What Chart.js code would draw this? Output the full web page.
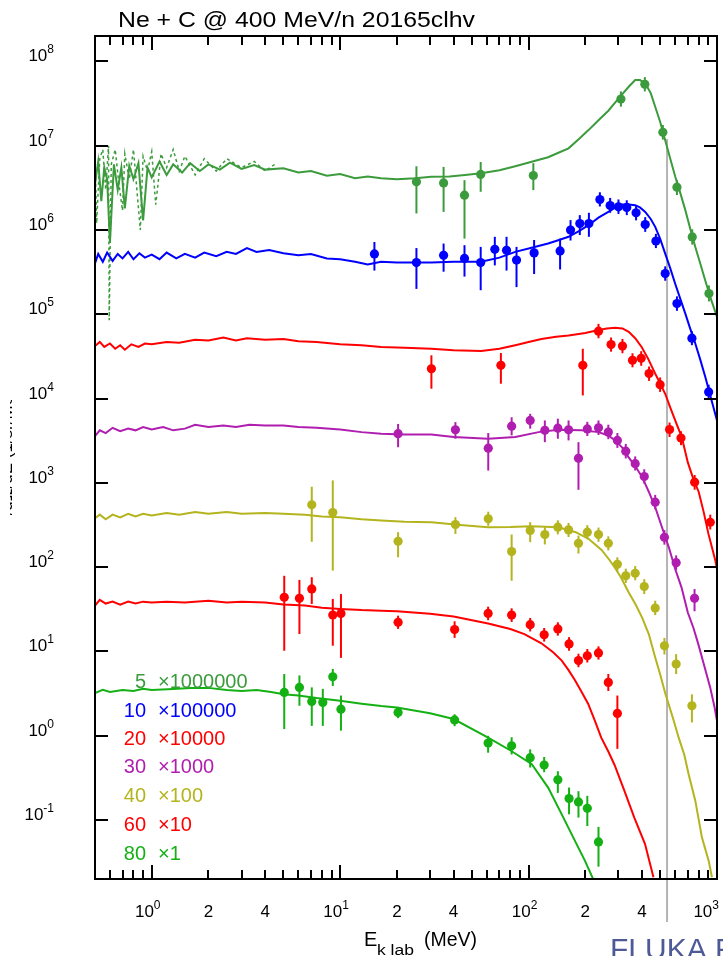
<!DOCTYPE html>
<html>
<head>
<meta charset="utf-8">
<script src="https://cdn.jsdelivr.net/npm/chart.js@4.4.1/dist/chart.umd.min.js"></script>
<style>
html, body { margin: 0; padding: 0; background: #ffffff; overflow: hidden; }
canvas { display: block; }
</style>
</head>
<body>
<canvas id="grafica-espectros" width="723" height="956"></canvas>
<script>
// Ne + C @ 400 MeV/n : FLUKA spectra (lines) and measured points, one pair per angle

const xTickValues = [1, 2, 4, 10, 20, 40, 100, 200, 400, 1000];
const xTickLabels = ['10^0', '2', '4', '10^1', '2', '4', '10^2', '2', '4', '10^3'];
const yTickExponents = [-1, 0, 1, 2, 3, 4, 5, 6, 7, 8];
const cutEnergy = 543;

// 5 deg
const mc5E = [0.5, 0.52, 0.54, 0.56, 0.58, 0.6, 0.63, 0.66, 0.69, 0.72, 0.76, 0.8, 0.85, 0.9, 0.95, 1.0, 1.1, 1.2, 1.3, 1.45, 1.6, 1.8, 2.0, 2.3, 2.6, 3.0, 3.5, 4.0, 5.0, 6.0, 7.0, 8.5, 10, 12, 14, 16.5, 20, 25, 30.5, 38, 46, 56, 70, 85, 105, 127, 145, 163, 185, 208, 235, 265, 290, 312, 340, 368, 390, 416, 445, 470, 500, 531, 565, 600, 640, 679, 720, 767, 815, 867, 930, 1000];
const mc5Y = [3.5e6, 6.5e6, 2.2e6, 5.5e6, 4.0e6, 7e5, 6.0e6, 3.0e6, 5.5e6, 1.8e6, 5.8e6, 4.0e6, 6.2e6, 1.3e6, 5.5e6, 4.2e6, 6.5e6, 4.5e6, 6.0e6, 4.8e6, 6.2e6, 5.0e6, 6.0e6, 5.2e6, 6.3e6, 5.3e6, 5.9e6, 5.2e6, 5.4e6, 4.8e6, 5.0e6, 4.4e6, 4.6e6, 4.1e6, 4.3e6, 4.1e6, 4.0e6, 4.1e6, 4.27e6, 4.3e6, 4.5e6, 4.7e6, 5.1e6, 5.7e6, 6.5e6, 7.3e6, 8.3e6, 9.3e6, 1.2e7, 1.53e7, 2.0e7, 2.6e7, 3.3e7, 4.0e7, 5.0e7, 6.0e7, 6.0e7, 5.5e7, 4.2e7, 2.9e7, 1.9e7, 1.16e7, 7.0e6, 4.3e6, 2.7e6, 1.72e6, 1.05e6, 6.3e5, 4.0e5, 2.5e5, 1.5e5, 9.3e4];
const mc5dE = [0.5, 0.51, 0.53, 0.55, 0.57, 0.59, 0.595, 0.61, 0.64, 0.67, 0.7, 0.72, 0.76, 0.8, 0.84, 0.87, 0.9, 0.95, 1.0, 1.05, 1.08, 1.12, 1.2, 1.3, 1.4, 1.5, 1.7, 1.9, 2.2, 2.5, 3.0, 3.5, 4.0, 4.5];
const mc5dY = [8e6, 1.2e6, 7e6, 9e6, 3e6, 1e7, 8.5e4, 6e6, 9e6, 3.5e6, 1.7e6, 8e6, 4e6, 9e6, 2.5e6, 1.0e6, 7.5e6, 5e6, 8.5e6, 2.0e6, 3.5e6, 8e6, 5.5e6, 9e6, 5e6, 7.5e6, 4.5e6, 7e6, 5e6, 7e6, 5.5e6, 6.5e6, 5e6, 6e6];
const exp5E = [25.4, 35.4, 45.7, 55.7, 106, 309, 414, 516, 613, 739, 906];
const exp5Y = [3.73e6, 3.62e6, 2.59e6, 4.56e6, 4.43e6, 3.57e7, 5.35e7, 1.44e7, 3.22e6, 8.28e5, 1.76e5];
const exp5Lo = [1.57e6, 1.64e6, 7.9e5, 2.84e6, 2.97e6, 2.9e7, 4.4e7, 1.18e7, 2.6e6, 6.7e5, 1.42e5];
const exp5Hi = [5.7e6, 5.6e6, 3.9e6, 6.4e6, 6.2e6, 4.4e7, 6.5e7, 1.76e7, 3.9e6, 1.02e6, 2.2e5];

// 10 deg
const mc10E = [0.5, 0.52, 0.55, 0.58, 0.62, 0.66, 0.7, 0.75, 0.8, 0.86, 0.92, 1.0, 1.1, 1.2, 1.35, 1.5, 1.7, 1.9, 2.2, 2.5, 2.8, 3.2, 3.6, 4.2, 5.0, 6.0, 7.0, 8.5, 10, 12, 14, 16.5, 20, 25, 30.5, 40, 56, 70, 85, 105, 127, 145, 163, 185, 208, 235, 265, 290, 312, 340, 368, 390, 416, 445, 470, 500, 531, 565, 600, 640, 679, 720, 767, 815, 867, 930, 1000];
const mc10Y = [4.0e5, 5.2e5, 4.2e5, 5.4e5, 4.3e5, 5.2e5, 4.6e5, 5.5e5, 4.5e5, 5.3e5, 4.7e5, 5.1e5, 4.5e5, 5.4e5, 4.6e5, 5.2e5, 4.7e5, 5.4e5, 4.9e5, 5.5e5, 5.2e5, 6.1e5, 5.5e5, 5.8e5, 5.3e5, 5.0e5, 5.2e5, 4.6e5, 4.5e5, 4.2e5, 3.9e5, 4.2e5, 4.1e5, 4.1e5, 4.1e5, 4.2e5, 4.2e5, 4.7e5, 5.5e5, 6.2e5, 6.9e5, 7.6e5, 8.3e5, 9.7e5, 1.14e6, 1.4e6, 1.64e6, 1.85e6, 2.0e6, 2.0e6, 1.97e6, 1.85e6, 1.64e6, 1.35e6, 1.09e6, 7.8e5, 5.25e5, 3.5e5, 2.3e5, 1.5e5, 1.02e5, 6.8e4, 4.5e4, 2.9e4, 1.8e4, 1.0e4, 5.5e3];
const exp10E = [15.2, 25.4, 35.4, 45.7, 55.7, 66.2, 76.4, 86.3, 107, 147, 167, 187, 209, 239, 271, 300, 332, 372, 416, 474, 531, 613, 736, 903];
const exp10Y = [5.2e5, 4.1e5, 5.0e5, 4.6e5, 4.1e5, 5.9e5, 5.75e5, 4.4e5, 5.35e5, 5.65e5, 1.0e6, 1.19e6, 1.19e6, 2.3e6, 1.95e6, 1.88e6, 1.85e6, 1.6e6, 1.16e6, 7.4e5, 3.04e5, 1.34e5, 5.2e4, 1.2e4];
const exp10Lo = [3.3e5, 2.0e5, 3.2e5, 2.8e5, 1.93e5, 3.8e5, 3.3e5, 2.1e5, 3.0e5, 3.4e5, 7.5e5, 8.7e5, 8.3e5, 1.9e6, 1.6e6, 1.55e6, 1.5e6, 1.3e6, 9.5e5, 6.1e5, 2.5e5, 1.1e5, 4.3e4, 9.8e3];
const exp10Hi = [7.2e5, 6.1e5, 6.9e5, 6.6e5, 6.3e5, 8.3e5, 8.3e5, 6.3e5, 7.6e5, 7.9e5, 1.31e6, 1.5e6, 1.6e6, 2.8e6, 2.4e6, 2.3e6, 2.25e6, 1.95e6, 1.42e6, 9.0e5, 3.7e5, 1.63e5, 6.3e4, 1.46e4];

// 20 deg
const mc20E = [0.5, 0.53, 0.56, 0.6, 0.64, 0.68, 0.72, 0.78, 0.85, 0.92, 1.0, 1.2, 1.4, 1.7, 2.0, 2.4, 2.8, 3.2, 4.0, 5.0, 6.0, 7.5, 10, 13, 16.5, 22, 30.5, 40, 56, 70, 85, 100, 117, 140, 163, 200, 232, 260, 288, 315, 340, 368, 398, 430, 470, 500, 531, 565, 600, 650, 700, 750, 800, 850, 900, 980, 1000];
const mc20Y = [4.2e4, 4.7e4, 4.1e4, 4.5e4, 3.9e4, 4.3e4, 3.8e4, 4.4e4, 4.1e4, 4.5e4, 4.4e4, 4.7e4, 4.6e4, 5.0e4, 4.9e4, 5.3e4, 4.9e4, 5.2e4, 5.0e4, 5.1e4, 4.8e4, 4.7e4, 4.4e4, 4.3e4, 4.1e4, 4.0e4, 3.9e4, 3.75e4, 3.66e4, 3.9e4, 4.3e4, 4.7e4, 5.1e4, 5.4e4, 5.6e4, 6.0e4, 6.45e4, 6.8e4, 6.9e4, 6.8e4, 6.2e4, 5.2e4, 4.1e4, 3.0e4, 1.98e4, 1.5e4, 1.14e4, 7.8e3, 5.5e3, 3.5e3, 1.75e3, 1.1e3, 7.8e2, 4.5e2, 2.5e2, 1.2e2, 9.5e1];
const exp20E = [30.5, 71.3, 194, 235, 274, 315, 356, 396, 436, 499, 560, 644, 761, 921];
const exp20Y = [2.26e4, 2.48e4, 2.48e4, 6.3e4, 4.37e4, 4.2e4, 2.85e4, 3.0e4, 1.98e4, 1.46e4, 4.3e3, 3.4e3, 1.02e3, 3.41e2];
const exp20Lo = [1.31e4, 1.5e4, 1.09e4, 5.2e4, 3.6e4, 3.45e4, 2.35e4, 2.45e4, 1.62e4, 1.2e4, 3.5e3, 2.8e3, 8.3e2, 2.8e2];
const exp20Hi = [3.26e4, 3.47e4, 3.9e4, 7.7e4, 5.3e4, 5.1e4, 3.45e4, 3.65e4, 2.4e4, 1.78e4, 5.2e3, 4.1e3, 1.24e3, 4.2e2];

// 30 deg
const mc30E = [0.5, 0.53, 0.57, 0.62, 0.68, 0.75, 0.82, 0.9, 1.0, 1.15, 1.3, 1.5, 1.7, 2.0, 2.4, 2.8, 3.3, 4.0, 5.0, 6.0, 7.5, 10, 13, 16.5, 22, 30.5, 40, 61, 85, 113, 144, 191, 235, 265, 288, 315, 339, 370, 401, 435, 470, 510, 555, 600, 648, 700, 750, 795, 860, 920, 970, 1000];
const mc30Y = [3.6e3, 4.2e3, 3.9e3, 4.5e3, 4.1e3, 4.4e3, 4.2e3, 4.6e3, 4.3e3, 4.6e3, 4.2e3, 4.4e3, 4.9e3, 4.6e3, 4.8e3, 4.6e3, 4.9e3, 4.8e3, 4.8e3, 4.6e3, 4.5e3, 4.3e3, 4.0e3, 3.83e3, 3.75e3, 3.75e3, 3.5e3, 3.34e3, 3.5e3, 4.0e3, 4.27e3, 4.2e3, 4.0e3, 3.65e3, 3.19e3, 2.6e3, 2.02e3, 1.55e3, 1.17e3, 7.8e2, 5.14e2, 3.0e2, 1.72e2, 9.5e1, 5.77e1, 2.9e1, 1.9e1, 1.23e1, 6.5, 3.75, 2.2, 1.5];
const exp30E = [20.3, 40.9, 61.1, 81.3, 102, 122, 143, 163, 184, 205, 235, 265, 296, 328, 368, 411, 470, 526, 607, 760];
const exp30Y = [3.83e3, 4.27e3, 2.58e3, 4.7e3, 5.5e3, 4.2e3, 4.46e3, 4.27e3, 1.96e3, 4.37e3, 4.5e3, 4.0e3, 3.19e3, 2.38e3, 1.69e3, 1.19e3, 590, 226, 113, 42.7];
const exp30Lo = [2.65e3, 3.34e3, 1.4e3, 3.66e3, 4.4e3, 3.04e3, 3.34e3, 3.19e3, 828, 3.6e3, 3.7e3, 3.3e3, 2.6e3, 1.95e3, 1.4e3, 980, 485, 185, 93, 30];
const exp30Hi = [5.0e3, 5.26e3, 3.9e3, 6.0e3, 6.6e3, 5.5e3, 5.77e3, 5.5e3, 3.04e3, 5.3e3, 5.5e3, 4.9e3, 3.9e3, 2.9e3, 2.06e3, 1.45e3, 720, 275, 138, 55];

// 40 deg
const mc40E = [0.5, 0.53, 0.57, 0.62, 0.68, 0.75, 0.82, 0.9, 1.0, 1.2, 1.4, 1.7, 2.0, 2.5, 3.0, 4.0, 5.0, 6.5, 8.0, 10, 13, 16.5, 22, 30.5, 45, 61, 80, 103, 144, 178, 208, 244, 270, 290, 310, 340, 370, 401, 435, 470, 500, 531, 553, 590, 626, 670, 707, 767, 832, 903, 940];
const mc40Y = [3.8e2, 4.2e2, 3.7e2, 4.2e2, 3.9e2, 4.3e2, 4.0e2, 4.3e2, 4.1e2, 4.4e2, 4.2e2, 4.5e2, 4.3e2, 4.5e2, 4.3e2, 4.4e2, 4.3e2, 4.2e2, 4.0e2, 3.9e2, 3.7e2, 3.57e2, 3.45e2, 3.41e2, 3.15e2, 2.98e2, 3.0e2, 3.06e2, 2.98e2, 2.6e2, 2.17e2, 1.6e2, 1.2e2, 9.5e1, 7.5e1, 5.0e1, 3.6e1, 2.5e1, 1.6e1, 8.5, 5.3, 3.2, 2.4, 1.5, 0.95, 0.6, 0.35, 0.17, 0.062, 0.033, 0.021];
const exp40E = [7.07, 9.14, 20.3, 40.9, 61.1, 81.3, 102, 122, 143, 163, 184, 205, 235, 265, 296, 328, 368, 411, 470, 526, 607, 736];
const exp40Y = [550, 445, 203, 321, 375, 153, 272, 244, 298, 277, 192, 260, 244, 192, 108, 79, 84.7, 59, 32.8, 11.7, 7.1, 2.27];
const exp40Lo = [200, 91, 131, 248, 310, 69, 198, 186, 245, 228, 145, 215, 200, 158, 89, 65, 70, 48, 27, 9.2, 5.4, 1.44];
const exp40Hi = [900, 1070, 260, 392, 455, 244, 342, 298, 360, 335, 237, 315, 295, 232, 131, 96, 103, 72, 40, 14.5, 9.3, 3.1];

// 60 deg
const mc60E = [0.5, 0.53, 0.57, 0.62, 0.68, 0.75, 0.82, 0.9, 1.0, 1.2, 1.5, 2.0, 2.5, 3.0, 4.0, 5.0, 6.5, 8.0, 10, 13, 16.5, 20, 30, 40, 61, 80, 95, 117, 135, 150, 163, 176, 190, 207, 225, 243, 265, 286, 323, 364, 415, 460];
const mc60Y = [3.5e1, 4.1e1, 3.7e1, 3.9e1, 3.6e1, 3.9e1, 3.7e1, 3.9e1, 3.8e1, 3.9e1, 3.8e1, 4.0e1, 3.8e1, 3.9e1, 3.8e1, 3.6e1, 3.5e1, 3.3e1, 3.2e1, 3.1e1, 3.05e1, 3.0e1, 2.8e1, 2.6e1, 2.15e1, 1.85e1, 1.61e1, 1.25e1, 9.8, 7.8, 6.0, 4.6, 3.4, 2.4, 1.5, 0.95, 0.65, 0.45, 0.22, 0.107, 0.052, 0.021];
const exp60E = [5.05, 6.08, 7.07, 9.14, 10.1, 20.3, 40.5, 61, 81.3, 102, 121, 143, 164, 184, 205, 235, 265, 296];
const exp60Y = [44, 42.7, 55.2, 27.1, 28.3, 22.2, 18.2, 28.3, 27, 20.8, 15.8, 18.5, 12.3, 7.8, 8.9, 9.6, 4.3, 1.84];
const exp60Lo = [10.2, 16.1, 36.6, 11.7, 8.4, 18.5, 14.5, 23.5, 22.4, 17.3, 13.1, 15.4, 10.2, 6.5, 7.4, 8.0, 3.4, 0.70];
const exp60Hi = [79, 70.6, 76, 42, 48, 26.6, 22.8, 34, 32.5, 25, 19, 22.2, 14.8, 9.4, 10.7, 11.5, 5.4, 3.0];

// 80 deg
const mc80E = [0.5, 0.55, 0.6, 0.7, 0.8, 0.9, 1.0, 1.3, 1.6, 2.0, 2.5, 3.0, 3.6, 4.3, 5.0, 6.0, 7.5, 10, 13, 16.5, 20, 30, 40, 61, 81, 104, 127, 150, 176, 199, 220];
const mc80Y = [3.2, 3.5, 3.3, 3.5, 3.4, 3.6, 3.5, 3.6, 3.7, 3.7, 3.5, 3.4, 3.5, 3.3, 3.1, 3.0, 2.8, 2.6, 2.4, 2.25, 2.17, 1.85, 1.58, 0.95, 0.66, 0.46, 0.243, 0.117, 0.057, 0.033, 0.02];
const exp80E = [5.05, 6.08, 7.07, 8.09, 9.14, 10.1, 20.3, 40.5, 61, 81.3, 102, 121, 143, 164, 184, 205, 235];
const exp80Y = [3.27, 3.75, 2.55, 2.49, 5.0, 2.07, 1.89, 1.54, 0.82, 0.76, 0.55, 0.45, 0.30, 0.18, 0.164, 0.138, 0.055];
const exp80Lo = [1.2, 2.27, 1.31, 1.31, 3.9, 1.15, 1.62, 1.3, 0.63, 0.6, 0.42, 0.37, 0.21, 0.117, 0.107, 0.085, 0.028];
const exp80Hi = [5.4, 5.2, 3.75, 3.6, 6.2, 3.0, 2.2, 1.8, 1.0, 0.96, 0.69, 0.56, 0.38, 0.243, 0.22, 0.194, 0.083];

const series = [
    { angle: '5', factor: '×1000000', color: '#3c9b3c', mcE: mc5E, mcY: mc5Y, expE: exp5E, expY: exp5Y, lo: exp5Lo, hi: exp5Hi },
    { angle: '10', factor: '×100000', color: '#0000ff', mcE: mc10E, mcY: mc10Y, expE: exp10E, expY: exp10Y, lo: exp10Lo, hi: exp10Hi },
    { angle: '20', factor: '×10000', color: '#ff0000', mcE: mc20E, mcY: mc20Y, expE: exp20E, expY: exp20Y, lo: exp20Lo, hi: exp20Hi },
    { angle: '30', factor: '×1000', color: '#b01eb0', mcE: mc30E, mcY: mc30Y, expE: exp30E, expY: exp30Y, lo: exp30Lo, hi: exp30Hi },
    { angle: '40', factor: '×100', color: '#b4b41e', mcE: mc40E, mcY: mc40Y, expE: exp40E, expY: exp40Y, lo: exp40Lo, hi: exp40Hi },
    { angle: '60', factor: '×10', color: '#ff0000', mcE: mc60E, mcY: mc60Y, expE: exp60E, expY: exp60Y, lo: exp60Lo, hi: exp60Hi },
    { angle: '80', factor: '×1', color: '#14b014', mcE: mc80E, mcY: mc80Y, expE: exp80E, expY: exp80Y, lo: exp80Lo, hi: exp80Hi }
];

const FONT = '"Liberation Sans", Arial, sans-serif';
const toPoints = (xs, ys) => xs.map((x, i) => ({ x: x, y: ys[i] }));

const datasets = [];
series.forEach(s => {
    datasets.push({
        label: s.angle + ' FLUKA',
        data: toPoints(s.mcE, s.mcY),
        showLine: true,
        borderColor: s.color,
        borderWidth: 2,
        pointRadius: 0,
        tension: 0
    });
    datasets.push({
        label: s.angle + ' exp',
        data: toPoints(s.expE, s.expY),
        showLine: false,
        backgroundColor: s.color,
        borderWidth: 0,
        pointRadius: 4.6,
        errLo: s.lo,
        errHi: s.hi
    });
});
datasets.push({
    label: '5 FLUKA (low E)',
    data: toPoints(mc5dE, mc5dY),
    showLine: true,
    borderColor: '#3c9b3c',
    borderWidth: 1.5,
    borderDash: [3, 3],
    pointRadius: 0,
    tension: 0
});

function fitText(ctx, text, x, y, width) {
    const w = ctx.measureText(text).width;
    ctx.save();
    ctx.translate(x, y);
    ctx.scale(width / w, 1);
    ctx.fillText(text, 0, 0);
    ctx.restore();
}

// "10" with a raised exponent, anchored right or centred
function drawPower(ctx, exp, x, y, align, maxRight) {
    ctx.font = '17px ' + FONT;
    const wBase = ctx.measureText('10').width;
    ctx.font = '12px ' + FONT;
    const wExp = ctx.measureText(exp).width;
    const total = wBase + wExp;
    let left = align === 'right' ? x - total : x - total / 2;
    if (maxRight && left + total > maxRight) left = maxRight - total;
    ctx.textAlign = 'left';
    ctx.font = '17px ' + FONT;
    ctx.fillText('10', left, y);
    ctx.font = '12px ' + FONT;
    ctx.fillText(exp, left + wBase, y - 8);
}

const decorations = {
    id: 'decorations',
    beforeDatasetsDraw(chart) {
        const { ctx, scales: { x, y } } = chart;
        const px = x.getPixelForValue(cutEnergy);
        ctx.save();
        ctx.strokeStyle = '#b4b4b4';
        ctx.lineWidth = 2;
        ctx.beginPath();
        ctx.moveTo(px, y.getPixelForValue(1.2e7));
        ctx.lineTo(px, y.getPixelForValue(6.2e-3));
        ctx.stroke();
        ctx.restore();
    },
    afterDatasetsDraw(chart) {
        const { ctx, chartArea: a, scales: { x, y } } = chart;
        ctx.save();
        ctx.beginPath();
        ctx.rect(a.left, a.top, a.right - a.left, a.bottom - a.top);
        ctx.clip();
        chart.data.datasets.forEach(ds => {
            if (!ds.errLo) return;
            ctx.strokeStyle = ds.backgroundColor;
            ctx.lineWidth = 2;
            ds.data.forEach((p, i) => {
                const px = x.getPixelForValue(p.x);
                ctx.beginPath();
                ctx.moveTo(px, y.getPixelForValue(ds.errLo[i]));
                ctx.lineTo(px, y.getPixelForValue(ds.errHi[i]));
                ctx.stroke();
            });
        });
        ctx.restore();
    },
    afterDraw(chart) {
        const { ctx, chartArea: a, scales: { x, y } } = chart;
        ctx.save();
        ctx.strokeStyle = '#000';
        ctx.fillStyle = '#000';
        ctx.lineWidth = 2;
        ctx.strokeRect(a.left, a.top, a.right - a.left, a.bottom - a.top);

        // x ticks, top and bottom, pointing inward
        ctx.beginPath();
        for (let d = -1; d <= 2; d++) {
            for (let m = 1; m <= 9; m++) {
                const v = m * Math.pow(10, d);
                if (v <= 0.5 || v >= 1000) continue;
                const px = Math.round(x.getPixelForValue(v));
                const len = m === 1 ? 14 : 9;
                ctx.moveTo(px, a.bottom);
                ctx.lineTo(px, a.bottom - len);
                ctx.moveTo(px, a.top);
                ctx.lineTo(px, a.top + len);
            }
        }
        // y ticks, left and right
        yTickExponents.forEach(e => {
            const py = Math.round(y.getPixelForValue(Math.pow(10, e)));
            ctx.moveTo(a.left, py);
            ctx.lineTo(a.left + 13, py);
            ctx.moveTo(a.right, py);
            ctx.lineTo(a.right - 13, py);
        });
        ctx.stroke();

        // tick labels
        ctx.textBaseline = 'alphabetic';
        yTickExponents.forEach(e => {
            drawPower(ctx, String(e), 54, y.getPixelForValue(Math.pow(10, e)), 'right');
        });
        xTickValues.forEach((v, i) => {
            const px = x.getPixelForValue(v);
            const label = xTickLabels[i];
            if (label.indexOf('^') >= 0) {
                drawPower(ctx, label.split('^')[1], px - 4, 917, 'center', 719);
            } else {
                ctx.font = '17px ' + FONT;
                ctx.textAlign = 'center';
                ctx.fillText(label, px, 917);
            }
        });

        // title and axis title
        ctx.textAlign = 'left';
        ctx.font = '22px ' + FONT;
        fitText(ctx, 'Ne + C @ 400 MeV/n 20165clhv', 118, 26.5, 357);
        ctx.font = '20px ' + FONT;
        ctx.fillText('E', 364, 946);
        ctx.font = '14px ' + FONT;
        fitText(ctx, 'k lab', 377, 955, 37);
        ctx.font = '20px ' + FONT;
        fitText(ctx, '(MeV)', 424, 946, 53);

        // y title, mostly cut off by the left edge
        ctx.save();
        ctx.beginPath();
        ctx.rect(10, 400, 5, 115);
        ctx.clip();
        ctx.translate(12, 458);
        ctx.rotate(-Math.PI / 2);
        ctx.font = '17px ' + FONT;
        ctx.textAlign = 'center';
        ctx.fillText('dN/dΩ/dE (1/sr/MeV)', 0, 0);
        ctx.restore();

        // angle / scale factor list
        const baselines = [688, 717, 745, 773, 802, 831, 860];
        series.forEach((s, i) => {
            ctx.fillStyle = s.color;
            ctx.font = '20px ' + FONT;
            ctx.textAlign = 'right';
            ctx.fillText(s.angle, 146, baselines[i]);
            ctx.textAlign = 'left';
            ctx.fillText(s.factor, 158, baselines[i]);
        });

        ctx.fillStyle = '#4e5a96';
        ctx.font = '30px ' + FONT;
        ctx.textAlign = 'left';
        ctx.fillText('FLUKA FLAIR', 610, 959);
        ctx.restore();
    }
};

const ctx = document.getElementById('grafica-espectros').getContext('2d');
new Chart(ctx, {
    type: 'scatter',
    data: { datasets: datasets },
    options: {
        responsive: false,
        animation: false,
        events: [],
        layout: { padding: { left: 95, right: 6, top: 36, bottom: 77 } },
        scales: {
            x: { type: 'logarithmic', min: 0.5, max: 1000, display: false },
            y: { type: 'logarithmic', min: 0.02, max: 2e8, display: false }
        },
        plugins: {
            legend: { display: false },
            tooltip: { enabled: false }
        }
    },
    plugins: [decorations]
});
</script>
</body>
</html>
